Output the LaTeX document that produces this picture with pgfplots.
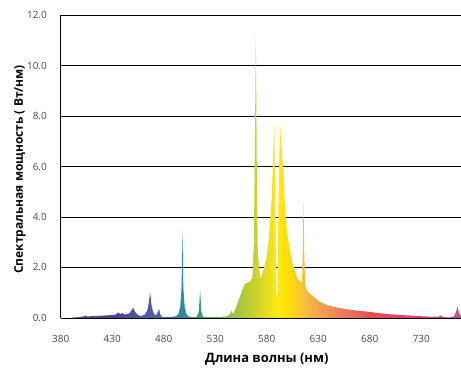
\documentclass[border=0pt]{standalone}
\usepackage{fontspec}
\setmainfont{Open Sans}
\usepackage{pgfplots}
\usepackage{pgfplotstable}
\pgfplotsset{compat=1.18}

\definecolor{c390}{HTML}{6A4A8A}
\definecolor{c430}{HTML}{4E3F8E}
\definecolor{c450}{HTML}{4A55A0}
\definecolor{c470}{HTML}{4C5FA8}
\definecolor{c485}{HTML}{3F76AC}
\definecolor{c498}{HTML}{2E8AA8}
\definecolor{c515}{HTML}{3AA070}
\definecolor{c530}{HTML}{66B458}
\definecolor{c546}{HTML}{98C44A}
\definecolor{c560}{HTML}{B8CC32}
\definecolor{c569}{HTML}{CCD22C}
\definecolor{c580}{HTML}{E6DE22}
\definecolor{c590}{HTML}{FFE818}
\definecolor{c600}{HTML}{FFE000}
\definecolor{c615}{HTML}{F8C238}
\definecolor{c625}{HTML}{F4AC4A}
\definecolor{c640}{HTML}{EF9458}
\definecolor{c660}{HTML}{EA7060}
\definecolor{c680}{HTML}{E45050}
\definecolor{c700}{HTML}{E4465C}
\definecolor{c730}{HTML}{E0457A}
\definecolor{c760}{HTML}{C64E8C}
\definecolor{c780}{HTML}{B85594}

\pgfdeclarehorizontalshading{spectrum}{100bp}{%
color(0bp)=(c390); color(25bp)=(c390); color(30.13bp)=(c430);
color(32.69bp)=(c450); color(35.26bp)=(c470); color(37.18bp)=(c485);
color(38.85bp)=(c498); color(41.03bp)=(c515); color(42.95bp)=(c530);
color(45bp)=(c546); color(46.79bp)=(c560); color(47.95bp)=(c569);
color(49.36bp)=(c580); color(50.64bp)=(c590); color(51.92bp)=(c600);
color(53.85bp)=(c615); color(55.13bp)=(c625); color(57.05bp)=(c640);
color(59.62bp)=(c660); color(62.18bp)=(c680); color(64.74bp)=(c700);
color(68.59bp)=(c730); color(72.44bp)=(c760); color(75bp)=(c780);
color(100bp)=(c780)}

\pgfplotstableread{
wl p
390 0.00
393 0.02
397 0.03
401 0.05
404 0.09
406 0.06
410 0.07
415 0.08
420 0.09
425 0.10
430 0.11
433 0.13
436 0.21
438 0.15
440 0.19
442 0.14
445 0.15
447 0.20
449 0.32
450.5 0.41
452 0.25
454 0.15
457 0.08
460 0.10
462 0.15
464 0.30
465.5 0.60
466.7 1.03
468 0.55
469.5 0.25
471 0.13
473 0.12
474.5 0.25
475.5 0.37
476.5 0.15
478 0.05
482 0.03
487 0.04
491 0.06
494 0.12
496 0.45
497.3 1.20
498.1 3.50
499 1.20
500.3 0.45
502 0.15
504 0.06
508 0.03
512 0.04
514 0.25
515.3 1.10
516.5 0.25
518 0.05
522 0.03
530 0.03
536 0.04
540 0.06
543 0.10
545 0.20
546 0.30
547 0.15
549 0.30
551 0.50
553 0.75
555.5 1.00
557.5 1.25
559 1.35
561.5 1.40
564 1.45
566 1.60
567.5 3.00
568.5 7.00
569.4 11.25
570.3 6.00
571.3 2.60
573.6 1.55
576.8 1.90
580.1 2.45
581.7 3.05
583.3 3.80
585 4.90
586.2 6.50
587.2 7.74
588.2 4.50
589.3 0.80
590.3 1.00
591.2 4.00
592.2 6.50
593 7.62
594.5 6.60
596.2 5.80
597.8 4.20
599.5 3.50
601.5 2.90
604.4 2.25
607.6 1.80
610 1.55
612.5 1.42
614.3 1.45
615 2.80
615.7 4.66
616.4 2.50
617.3 1.30
619 1.10
622 0.95
626 0.82
630 0.68
636 0.55
644 0.45
652 0.38
660 0.33
668 0.29
677 0.25
685 0.21
693 0.17
701 0.14
709 0.12
717 0.10
725 0.08
733 0.06
741 0.05
747 0.05
749 0.10
751 0.04
756 0.02
760 0.03
762 0.08
763.8 0.25
765.3 0.46
766.5 0.20
768.5 0.10
770 0.30
771.5 0.08
775 0.03
780 0.02
}\spd

\begin{document}
\begin{tikzpicture}
\begin{axis}[
  scale only axis,
  width=411.8bp, height=302.7bp,
  xmin=380, xmax=780, ymin=0, ymax=12,
  xtick={380,430,...,730},
  ytick={0,2,...,12},
  axis x line=bottom, axis y line=left,
  axis line style={-, black, line width=0.8bp},
  ymajorgrids,
  major grid style={black, line width=0.8bp},
  major tick length=0pt,
  tick style={draw=none},
  /pgf/number format/assume math mode=true,
  ticklabel style={font=\fontsize{10}{12}\selectfont, color=black!72},
  yticklabel style={/pgf/number format/fixed, /pgf/number format/fixed zerofill, /pgf/number format/precision=1},
  xticklabel style={/pgf/number format/fixed, /pgf/number format/precision=0, /pgf/number format/1000 sep={}},
  x tick label style={anchor=base, yshift=-25bp},
  y tick label style={anchor=east, inner sep=0pt, xshift=-13.7bp},
  every axis x label/.style={at={(axis description cs:0.5,-0.1464)}, anchor=base, font=\fontsize{13}{15}\selectfont\bfseries},
  every axis y label/.style={at={(axis description cs:-0.092,0.49)}, rotate=90, anchor=base, font=\fontsize{12}{14}\selectfont\bfseries},
  xlabel={Длина волны (нм)},
  ylabel={Спектральная мощность ( Вт/нм)},
]
\addplot[draw=none, shading=spectrum] table[x=wl, y=p] {\spd} \closedcycle;
\end{axis}
\pgfresetboundingbox
\path ([xshift=-60.7bp, yshift=-49.3bp]current axis.south west) rectangle ([xshift=-11.8bp, yshift=15bp]current axis.north east);
\end{tikzpicture}
\end{document}
